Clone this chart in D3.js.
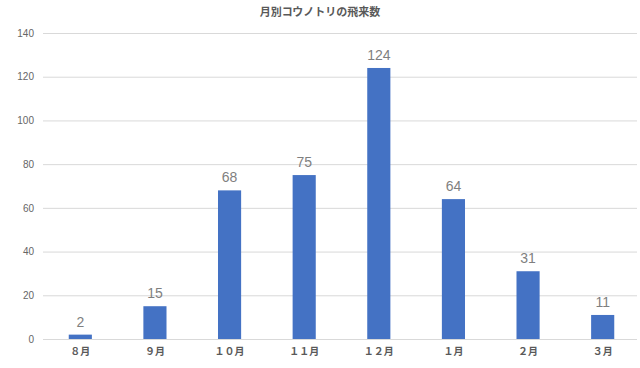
<!DOCTYPE html>
<html><head><meta charset="utf-8">
<script src="https://cdn.jsdelivr.net/npm/d3@7"></script>
<style>body{margin:0;background:#fff}svg{display:block}</style>
</head><body>
<script>
const categories = ["８月","９月","１０月","１１月","１２月","１月","２月","３月"];
const values = [2,15,68,75,124,64,31,11];
const yTicks = [0,20,40,60,80,100,120,140];
const title = "月別コウノトリの飛来数";

const W=640,H=368;
const svg=d3.select("body").append("svg").attr("width",W).attr("height",H);
const x=d3.scaleBand().domain(categories).range([43,640]).paddingInner(0.69).paddingOuter(0.345);
const y=d3.scaleLinear().domain([0,140]).range([339,33]);
const font="'Noto Sans CJK JP','Noto Sans',sans-serif";
const numFont="'Liberation Sans',Arial,sans-serif";

svg.append("text").attr("x",320).attr("y",16).attr("text-anchor","middle")
 .attr("font-family",font).attr("font-size",11).attr("font-weight","bold").attr("fill","#595959").text(title);

const ya=svg.append("g").attr("transform","translate(43,0)")
 .call(d3.axisLeft(y).tickValues(yTicks).tickSize(-594).tickPadding(9));
ya.select(".domain").remove();
ya.selectAll(".tick line").attr("stroke","#d9d9d9").attr("stroke-width",1);
ya.selectAll(".tick text").attr("font-family",numFont).attr("font-size",10).attr("fill","#666666");

svg.selectAll("rect.bar").data(values).join("rect").attr("class","bar")
 .attr("x",(d,i)=>x(categories[i])).attr("width",x.bandwidth())
 .attr("y",d=>y(d)).attr("height",d=>y(0)-y(d)).attr("fill","#4472c4");

svg.selectAll("text.lab").data(values).join("text").attr("class","lab")
 .attr("x",(d,i)=>x(categories[i])+x.bandwidth()/2).attr("y",d=>y(d)-8)
 .attr("text-anchor","middle").attr("font-family",numFont).attr("font-size",14).attr("fill","#7f7f7f").text(d=>d);

const xa=svg.append("g").attr("transform","translate(0,339)")
 .call(d3.axisBottom(x).tickSize(0).tickPadding(9));
xa.select(".domain").remove();
xa.selectAll(".tick text").attr("font-family",font).attr("font-size",10).attr("font-weight","bold").attr("fill","#595959");
</script>
</body></html>
